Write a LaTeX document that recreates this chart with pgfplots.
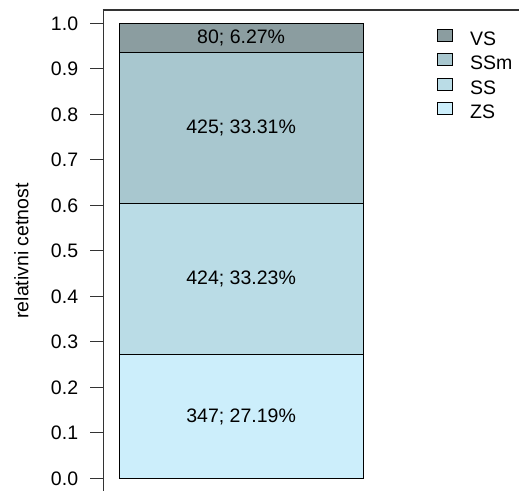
\documentclass[border=0pt]{standalone}
\usepackage{pgfplots}
\pgfplotsset{compat=1.18}
\usepackage{fontspec}
\setmainfont{Liberation Sans}
\definecolor{cZS}{HTML}{CCEEFB}
\definecolor{cSS}{HTML}{BADCE6}
\definecolor{cSSm}{HTML}{A8C7CF}
\definecolor{cVS}{HTML}{8B9DA0}
\definecolor{frame}{HTML}{333333}
\newcommand{\rfont}{\fontsize{19.5bp}{23bp}\selectfont}
\begin{document}
\begin{tikzpicture}
\begin{axis}[
  at={(103.3bp,-78.26bp)}, anchor=south west,
  scale only axis, width=596.7bp, height=559.26bp,
  xmin=103.3, xmax=700, ymin=-0.2, ymax=1.0297,
  clip=false,
  axis line style={line width=1.2bp, frame},
  ybar stacked, bar width=244.3,
  xtick=\empty,
  ytick={0,0.1,0.2,0.3,0.4,0.5,0.6,0.7,0.8,0.9,1.0},
  ytick pos=left, tick align=outside, major tick length=13bp,
  tick style={line width=1bp, frame},
  yticklabel style={font=\rfont, anchor=east, inner sep=0pt, xshift=-12bp,
    /pgf/number format/.cd, fixed, fixed zerofill, precision=1, assume math mode=true},
  legend image code/.code={\draw[#1, line width=1bp] (0bp,-1bp) rectangle (15bp,11bp);},
  reverse legend,
  legend style={at={(axis cs:437,0.988)}, anchor=north west, draw=none, fill=none,
    inner sep=0pt, row sep=3.7bp, column sep=17bp, font=\rfont,
    nodes={inner sep=0pt, text height=14bp, text depth=4bp}},
  legend cell align=left,
]
\addplot[fill=cZS, draw=black, line width=1bp] coordinates {(241.15,0.2719)};
\addlegendentry{ZS}
\addplot[fill=cSS, draw=black, line width=1bp] coordinates {(241.15,0.3323)};
\addlegendentry{SS}
\addplot[fill=cSSm, draw=black, line width=1bp] coordinates {(241.15,0.3331)};
\addlegendentry{SSm}
\addplot[fill=cVS, draw=black, line width=1bp] coordinates {(241.15,0.0627)};
\addlegendentry{VS}
\coordinate (L1) at (axis cs:241.15,0.1360);
\coordinate (L2) at (axis cs:241.15,0.4381);
\coordinate (L3) at (axis cs:241.15,0.7708);
\coordinate (L4) at (axis cs:241.15,0.9687);
\coordinate (YL) at (axis cs:103.3,0.5);
\end{axis}
\draw[line width=1.6bp, frame] (102.7bp,480.8bp) -- (530bp,480.8bp);
\node[font=\rfont] at (L1) {347; 27.19\%};
\node[font=\rfont] at (L2) {424; 33.23\%};
\node[font=\rfont] at (L3) {425; 33.31\%};
\node[font=\rfont] at (L4) {80; 6.27\%};
\node[font=\rfont, rotate=90] at ([xshift=-82bp]YL) {relativni cetnost};
\pgfresetboundingbox
\useasboundingbox (0,0) rectangle (519bp,491bp);
\end{tikzpicture}
\end{document}
